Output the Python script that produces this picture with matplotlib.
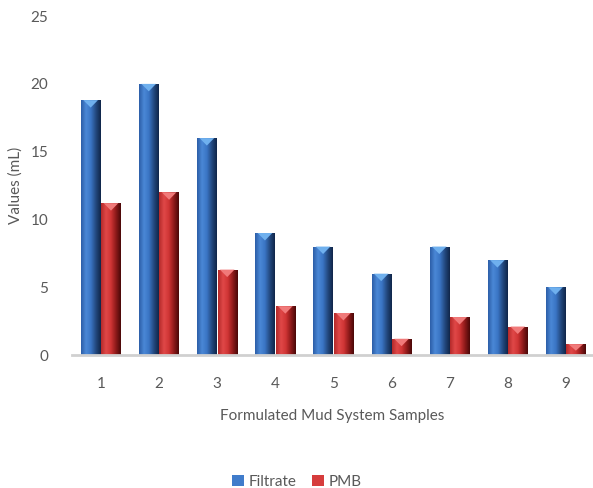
import numpy as np
import matplotlib.pyplot as plt
from matplotlib.colors import LinearSegmentedColormap
from matplotlib.patches import Polygon

plt.rcParams['font.family'] = ['Lato', 'DejaVu Sans']

samples = ["1", "2", "3", "4", "5", "6", "7", "8", "9"]
filtrate = [18.8, 20.0, 16.0, 9.0, 8.0, 6.0, 8.0, 7.0, 5.0]
pmb = [11.2, 12.0, 6.3, 3.6, 3.1, 1.2, 2.8, 2.1, 0.8]

blue_cmap = LinearSegmentedColormap.from_list(
    "blue_cyl", ["#2c5ea8", "#4a88d6", "#3a74c4", "#23497f", "#10264a"])
red_cmap = LinearSegmentedColormap.from_list(
    "red_cyl", ["#b52a2a", "#e04848", "#cf3434", "#8e1a1a", "#4a0808"])

fig = plt.figure(figsize=(5.93, 4.88), dpi=100)
ax = fig.add_axes([0.121, 0.2725, 0.877, 0.6945])

x = np.arange(len(samples))
w = 0.33
gap = 0.02
grad = np.linspace(0, 1, 64).reshape(1, -1)


def shaded_bars(xpos, values, cmap, tip, label):
    bars = ax.bar(xpos, values, w, color=cmap(0.4), label=label, linewidth=0)
    for b in bars:
        x0, y0 = b.get_x(), b.get_y()
        bw, bh = b.get_width(), b.get_height()
        im = ax.imshow(grad, cmap=cmap, aspect="auto",
                       extent=(x0, x0 + bw, y0, y0 + bh), zorder=2)
        im.set_clip_path(b)
        # lighter wedge at the top of each column
        th = min(0.55, bh * 0.6)
        tri = Polygon([(x0 + bw * 0.12, y0 + bh), (x0 + bw * 0.88, y0 + bh),
                       (x0 + bw * 0.5, y0 + bh - th)],
                      closed=True, facecolor=tip, edgecolor="none", zorder=3)
        ax.add_patch(tri)
    return bars


shaded_bars(x - w / 2 - gap / 2, filtrate, blue_cmap, "#6fb0ee", "Filtrate")
shaded_bars(x + w / 2 + gap / 2, pmb, red_cmap, "#f07a7a", "PMB")

ax.set_xlim(-0.5, 8.45)
ax.set_ylim(0, 25)
ax.set_yticks([0, 5, 10, 15, 20, 25])
ax.set_xticks(x)
ax.set_xticklabels(samples)

for side in ["top", "right", "left"]:
    ax.spines[side].set_visible(False)
ax.spines["bottom"].set_color("#d0d0d0")
ax.spines["bottom"].set_linewidth(2)
ax.tick_params(axis="both", length=0, labelsize=11, colors="#595959")
ax.tick_params(axis="y", pad=17)
ax.tick_params(axis="x", pad=16)

ax.set_ylabel("Values (mL)", fontsize=11, color="#595959", labelpad=9)
ax.yaxis.set_label_coords(-0.095, 0.5)
ax.set_xlabel("Formulated Mud System Samples", fontsize=11,
              color="#595959", labelpad=13)

leg = fig.legend(loc="lower center", bbox_to_anchor=(0.5, -0.03), ncol=2,
                 frameon=False, fontsize=11, handlelength=0.8,
                 handleheight=0.8, columnspacing=1.0, handletextpad=0.3)
for t in leg.get_texts():
    t.set_color("#595959")

fig.savefig("out.png", dpi=100)
